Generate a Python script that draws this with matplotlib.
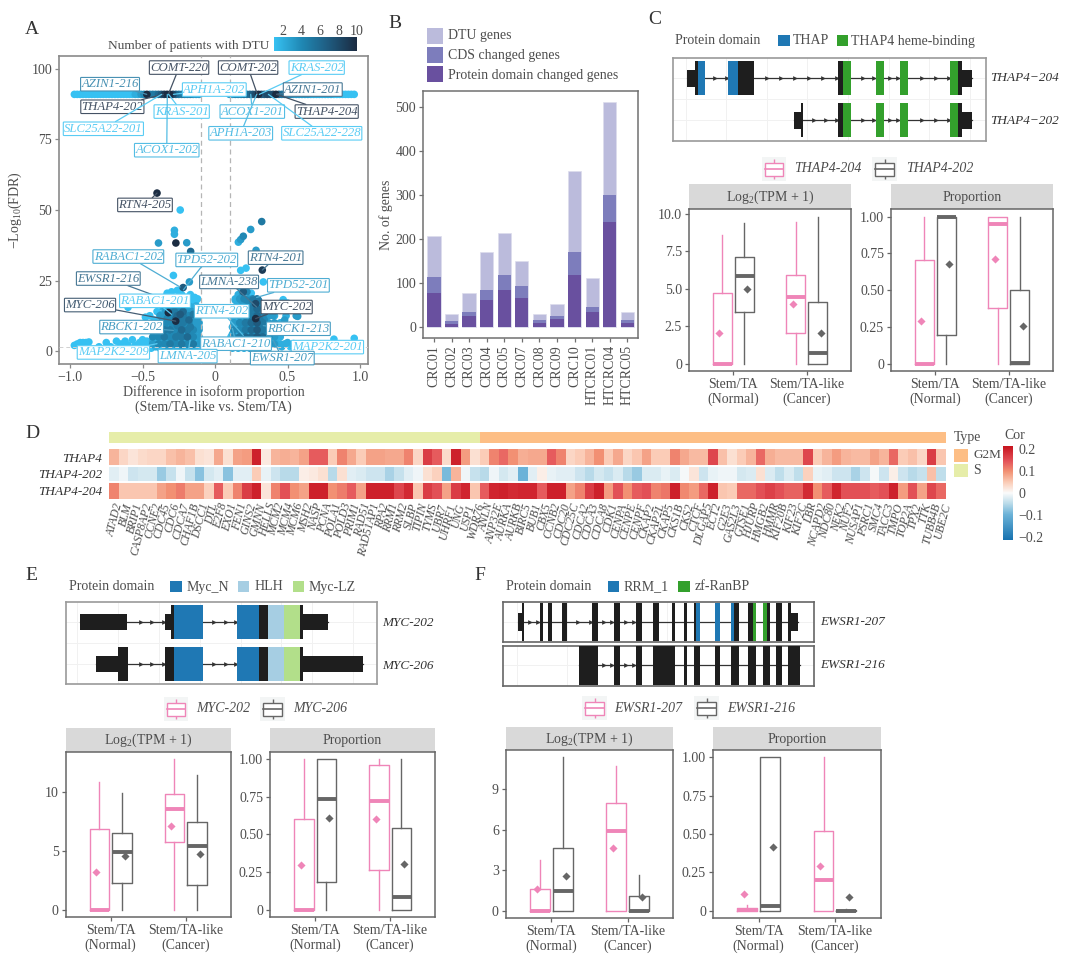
import matplotlib
matplotlib.use('Agg')
import matplotlib.pyplot as plt
import numpy as np
from matplotlib.colors import LinearSegmentedColormap, Normalize
from matplotlib.patches import Rectangle

plt.rcParams['font.family'] = ['Liberation Serif', 'DejaVu Serif']
plt.rcParams['mathtext.fontset'] = 'custom'
plt.rcParams['mathtext.rm'] = 'Liberation Serif'
plt.rcParams['mathtext.it'] = 'Liberation Serif:italic'
plt.rcParams['mathtext.default'] = 'regular'

W, H = 1080, 974
TXT = '#4d4d4d'
PINK = '#ef85b8'
GREY = '#666666'
BLUE = '#1f78b4'
GREEN = '#33a02c'
LBLUE = '#a6cee3'
LGREEN = '#b2df8a'

# ── A: volcano ────────────────────────────────────────────────────────
row_x = [-0.97, -0.95, -0.93, -0.91, -0.89, -0.87, -0.85, -0.83, -0.81, -0.79, -0.77, -0.75,
         -0.73, -0.71, -0.69, -0.67, -0.65, -0.63, -0.61, -0.59, -0.57, -0.55, -0.53, -0.51,
         -0.49, -0.47, -0.45, -0.43, -0.41, -0.39, -0.37, -0.35, -0.33, -0.31, -0.29, -0.27,
         -0.25, -0.23, -0.21, -0.19, -0.17, -0.15, -0.13, -0.11,
         0.10, 0.12, 0.14, 0.16, 0.18, 0.20, 0.22, 0.24, 0.26, 0.28, 0.30, 0.32, 0.34, 0.36,
         0.38, 0.40, 0.42, 0.44, 0.46, 0.48, 0.50, 0.52, 0.54, 0.56, 0.58, 0.60, 0.62, 0.64,
         0.66, 0.68, 0.70, 0.72, 0.74, 0.76, 0.78, 0.80, 0.82, 0.84, 0.86, 0.88, 0.90, 0.92,
         0.94, 0.96]
row_n = [1, 1, 1, 1, 1, 1, 1, 1, 1, 1, 1, 1,
         1, 1, 1, 1, 1, 1, 1, 1, 1, 2, 2, 3,
         4, 10, 4, 5, 5, 6, 7, 9, 10, 10, 8, 6,
         5, 5, 4, 4, 4, 3, 3, 3,
         3, 3, 4, 4, 4, 5, 5, 6, 7, 8, 10, 7, 7, 8,
         7, 8, 10, 6, 5, 5, 4, 4, 3, 3, 3, 3, 3, 3,
         2, 2, 2, 2, 2, 2, 2, 2, 1, 1, 1, 1, 1, 1,
         1, 1]
row_y = 91

dtu_x = [-0.40, -0.24, -0.28, -0.28, -0.27, -0.39, -0.195, -0.168, -0.287, -0.177,
         -0.22, 0.322, 0.246, 0.195, 0.161, 0.177, 0.283, 0.326, 0.214, 0.177,
         0.333, 0.28, 0.28, -0.322, -0.271, 0.195, -0.23,
         -0.97, -0.95, -0.93, -0.91, -0.89, -0.87, -0.80, -0.75, -0.72, -0.68,
         -0.65, -0.62, -0.60, -0.57, -0.55, -0.52, -0.50, -0.49, -0.47, -0.46,
         -0.60, -0.48, -0.45, -0.42, -0.40, -0.37, -0.35, -0.33, -0.30, -0.26,
         -0.23, -0.20, -0.17, -0.14, -0.12, -0.35, -0.31, -0.28, -0.24, -0.21,
         -0.18, -0.15, -0.13,
         -0.44, -0.41, -0.38, -0.35, -0.32, -0.29, -0.26, -0.23, -0.20, -0.17,
         -0.14, -0.11, -0.43, -0.40, -0.37, -0.34, -0.31, -0.28, -0.25, -0.22,
         -0.19, -0.16, -0.13, -0.10, -0.42, -0.39, -0.36, -0.33, -0.30, -0.27,
         -0.24, -0.21, -0.18, -0.15, -0.12, -0.41, -0.38, -0.35, -0.32, -0.29,
         -0.26, -0.23, -0.20, -0.17, -0.14, -0.11, -0.36, -0.33, -0.30, -0.27,
         -0.24, -0.21, -0.18, -0.15, -0.12, -0.34, -0.31, -0.28, -0.25, -0.22,
         -0.19, -0.16, -0.13, -0.30, -0.27, -0.24, -0.21, -0.18, -0.15, -0.12,
         0.96, 0.82, 0.76, 0.72, 0.68, 0.64, 0.60, 0.56, 0.52, 0.48,
         0.47, 0.50, 0.57, 0.56, 0.40, 0.44, 0.48, 0.52, 0.47, 0.42,
         0.38, 0.36, 0.34, 0.32, 0.30, 0.28, 0.26, 0.24, 0.22, 0.20,
         0.18, 0.16, 0.14, 0.12, 0.11, 0.38, 0.36, 0.34, 0.32, 0.30,
         0.28, 0.26, 0.24, 0.22, 0.20, 0.18, 0.16, 0.14, 0.12, 0.11,
         0.36, 0.33, 0.30, 0.27, 0.24, 0.21, 0.18, 0.15, 0.12, 0.34,
         0.31, 0.28, 0.25, 0.22, 0.19, 0.16, 0.13, 0.32, 0.29, 0.26,
         0.23, 0.20, 0.17, 0.14, 0.30, 0.27, 0.24, 0.21, 0.18, 0.15,
         0.29, 0.26, 0.23, 0.20, 0.17, 0.14, 0.25, 0.22, 0.19, 0.16,
         0.21, 0.18, 0.70, 0.66, 0.62, 0.58, 0.54, 0.50, 0.46, 0.42]
dtu_y = [56, 50, 42.8, 41.4, 38.3, 38.3, 38.4, 35.3, 26.8, 24.5,
         22.5, 45.9, 43.1, 40.7, 38.6, 39.5, 35.7, 28.7, 29.4, 28.6,
         24.5, 16.8, 11.5, 13.6, 10.6, 21, 5,
         2, 2.5, 3, 3, 3, 3.2, 1.5, 3, 1.5, 3.5,
         2.5, 3.5, 2, 4, 2, 3, 4, 1.5, 3.5, 2,
         15.5, 12, 12.5, 11, 14, 13, 19, 20.5, 21, 21.5,
         20, 19, 20, 19, 18.5, 16, 17, 18, 17, 18,
         16, 17, 16,
         1, 1.5, 1, 2, 1, 2, 1, 2, 1, 2,
         1, 2, 3.5, 4, 3.5, 4, 3.5, 4, 3.5, 4,
         3.5, 4, 3.5, 4, 6, 6.5, 6, 6.5, 6, 6.5,
         6, 6.5, 6, 6.5, 6, 8.5, 9, 8.5, 9, 8.5,
         9, 8.5, 9, 8.5, 9, 8.5, 11, 11.5, 11, 11.5,
         11, 11.5, 11, 11.5, 11, 14, 14.5, 14, 14.5, 14,
         14.5, 14, 14.5, 16.5, 12.5, 13, 13.5, 12.5, 13, 13.5,
         4.5, 4.2, 1.5, 2.5, 1.5, 2.5, 1.5, 2.5, 1.5, 2.5,
         18.2, 17, 12.3, 12.5, 12.5, 15, 11, 7.5, 8, 5,
         3, 1, 3, 1, 3, 1, 3, 1, 3, 1,
         3, 1, 3, 1, 2, 5.5, 6, 5.5, 6, 5.5,
         6, 5.5, 6, 5.5, 6, 5.5, 6, 5.5, 6, 5,
         8.5, 8.5, 8.5, 8.5, 8.5, 8.5, 8.5, 8.5, 8.5, 11,
         11, 11, 11, 11, 11, 11, 11, 13.5, 13.5, 13.5,
         13.5, 13.5, 13.5, 13.5, 16, 16, 16, 16, 16, 16,
         18.5, 18.5, 18.5, 18.5, 18.5, 18.5, 20.5, 21, 20.5, 20,
         23, 22.5, 1.5, 2.5, 1.5, 2.5, 1.5, 3, 1.5, 3]
dtu_n = [10, 1, 2, 2, 10, 3, 3, 6, 1, 3,
         7, 5, 3, 4, 2, 3, 3, 9, 1, 1,
         1, 8, 10, 10, 10, 7, 5,
         1, 1, 1, 1, 1, 1, 1, 1, 1, 1,
         1, 1, 1, 1, 1, 1, 1, 1, 1, 1,
         1, 1, 1, 1, 1, 2, 2, 1, 1, 1,
         1, 1, 1, 1, 1, 3, 3, 2, 2, 3,
         2, 1, 2,
         1, 2, 1, 2, 3, 2, 2, 3, 2, 3,
         2, 1, 2, 2, 3, 2, 3, 4, 3, 3,
         2, 3, 2, 1, 2, 3, 2, 4, 3, 4,
         5, 3, 4, 3, 2, 3, 3, 4, 3, 4,
         5, 4, 3, 5, 3, 2, 3, 4, 3, 6,
         5, 4, 6, 3, 3, 3, 4, 5, 4, 6,
         3, 3, 2, 2, 4, 7, 3, 3, 5, 3,
         1, 1, 1, 1, 1, 1, 1, 2, 1, 2,
         1, 1, 3, 3, 3, 3, 3, 4, 3, 2,
         2, 3, 4, 3, 5, 3, 4, 3, 3, 2,
         3, 2, 3, 2, 2, 3, 3, 4, 4, 5,
         4, 4, 3, 3, 2, 3, 2, 2, 2, 1,
         3, 4, 5, 4, 3, 4, 3, 2, 2, 4,
         5, 6, 5, 3, 3, 2, 2, 4, 5, 4,
         3, 4, 2, 2, 4, 5, 4, 3, 2, 2,
         5, 4, 3, 4, 3, 2, 1, 4, 3, 2,
         4, 2, 1, 1, 1, 1, 2, 2, 2, 2]

# denser core of the two blobs near the axis
core_x = [-.43, -.39, -.35, -.31, -.27, -.23, -.19, -.15, -.11,
          -.43, -.39, -.35, -.31, -.27, -.23, -.19, -.15, -.11,
          -.43, -.39, -.35, -.31, -.27, -.23, -.19, -.15, -.11,
          -.38, -.34, -.30, -.26, -.22, -.18, -.14, -.11,
          -.38, -.34, -.30, -.26, -.22, -.18, -.14, -.11,
          -.36, -.32, -.28, -.24, -.20, -.16, -.12,
          -.36, -.32, -.28, -.24, -.20, -.16, -.13,
          .13, .17, .21, .25, .29, .33, .37, .41, .45,
          .13, .17, .21, .25, .29, .33, .37, .41, .45,
          .13, .17, .21, .25, .29, .33, .37, .41, .45,
          .13, .17, .21, .25, .29, .33, .37, .41, .45,
          .13, .17, .21, .25, .29, .33, .37, .41, .49,
          .13, .17, .21, .25, .29, .33, .37, .41,
          .14, .18, .22, .26, .30]
core_y = [2.5, 2.5, 2.5, 2.5, 2.5, 2.5, 2.5, 2.5, 2.5,
          5, 5, 5, 5, 5, 5, 5, 5, 5,
          7.5, 7.5, 7.5, 7.5, 7.5, 7.5, 7.5, 7.5, 7.5,
          10, 10, 10, 10, 10, 10, 10, 10,
          12.5, 12.5, 12.5, 12.5, 12.5, 12.5, 12.5, 12.5,
          15.5, 15.5, 15.5, 15.5, 15.5, 15.5, 15.5,
          18, 18, 18, 18, 18, 18, 18,
          2.5, 2.5, 2.5, 2.5, 2.5, 2.5, 2.5, 2.5, 2.5,
          5, 5, 5, 5, 5, 5, 5, 5, 5,
          7.5, 7.5, 7.5, 7.5, 7.5, 7.5, 7.5, 7.5, 7.5,
          10, 10, 10, 10, 10, 10, 10, 10, 10,
          12.5, 12.5, 12.5, 12.5, 12.5, 12.5, 12.5, 12.5, 12.5,
          15, 15, 15, 15, 15, 15, 15, 15,
          18, 18, 18, 18, 18]
core_n = [3, 4, 4, 5, 4, 5, 4, 5, 3,
          4, 4, 5, 4, 5, 5, 6, 4, 3,
          3, 4, 5, 5, 4, 6, 5, 4, 3,
          3, 4, 4, 5, 5, 4, 3, 3,
          3, 3, 4, 6, 5, 4, 3, 3,
          2, 2, 3, 3, 3, 2, 2,
          1, 2, 2, 2, 1, 1, 1,
          4, 5, 5, 6, 6, 5, 4, 3, 2,
          4, 5, 6, 6, 7, 6, 4, 3, 2,
          4, 4, 5, 6, 7, 5, 4, 3, 3,
          3, 4, 5, 6, 7, 5, 3, 3, 2,
          3, 4, 5, 5, 6, 4, 3, 2, 2,
          2, 3, 4, 5, 6, 3, 2, 2,
          2, 3, 4, 5, 5]

lab_names = ['COMT-220', 'COMT-202', 'KRAS-202', 'AZIN1-216', 'AZIN1-201', 'APH1A-202',
             'THAP4-202', 'THAP4-204', 'KRAS-201', 'ACOX1-201', 'SLC25A22-201', 'APH1A-203',
             'SLC25A22-228', 'ACOX1-202', 'RTN4-205', 'RABAC1-202', 'TPD52-202', 'RTN4-201',
             'EWSR1-216', 'LMNA-238', 'TPD52-201', 'RABAC1-201', 'MYC-206', 'MYC-202',
             'RTN4-202', 'RBCK1-202', 'RBCK1-213', 'RABAC1-210', 'MAP2K2-201', 'MAP2K2-209',
             'LMNA-205', 'EWSR1-207']
lab_n = [10, 10, 1, 5, 7, 1, 10, 10, 1, 2, 1, 2, 1, 2, 10, 3, 3, 7, 7, 7, 3, 1, 9, 10,
         2, 4, 4, 3, 1, 1, 2, 4]
lab_x = [-.248, .228, .701, -.724, .674, -.005, -.708, .77, -.23, .257, -.77, .177,
         .736, -.333, -.483, -.598, -.057, .418, -.736, .097, .575, -.414, -.862, .494,
         .046, -.575, .575, .145, .775, -.701, -.189, .464]
lab_y = [100.5, 100.5, 100.5, 94.6, 92.7, 92.7, 86.6, 84.9, 84.9, 84.9, 78.8, 77.2,
         77.2, 71.2, 51.8, 33.5, 32.3, 33.1, 25.7, 24.5, 23.3, 17.8, 16.3, 15.6,
         14.1, 8.5, 7.9, 2.6, 1.4, -.5, -1.8, -2.5]
tip_x = [-.322, .292, .306, -.471, .425, -.287, -.356, .425, -.32, .246, -.368, .287,
         .368, -.329, -.40, -.241, -.218, .326, -.379, .287, .287, -.3, -.271, .28,
         .195, -.287, .333, .12, .54, -.40, -.172, .402]
tip_y = [91, 91, 91, 91, 91, 91, 91, 91, 91, 91, 91, 91,
         91, 91, 56, 22.7, 21.7, 28.7, 19, 15.6, 19, 13, 10.6, 11.5,
         5.5, 7.3, 9, 8, 3.8, 2.6, 3.8, 3.8]

# ── B: stacked bars ───────────────────────────────────────────────────
patients = ['CRC01', 'CRC02', 'CRC03', 'CRC04', 'CRC05', 'CRC07', 'CRC08', 'CRC09', 'CRC10',
            'HTCRC01', 'HTCRC04', 'HTCRC05']
dtu_genes = [207, 29, 78, 170, 213, 150, 30, 53, 355, 112, 511, 35]
cds_genes = [114, 13, 33, 83, 117, 94, 17, 26, 171, 46, 299, 15]
domain_genes = [78, 7, 25, 61, 83, 66, 10, 19, 119, 34, 239, 10]

# ── Box stats: whislo, q1, med, q3, whishi, mean ──────────────────────
c_tpm_a = [[0, 0, 0, 4.7, 8.6, 2.04], [0, 2.09, 4.47, 5.9, 9.47, 3.98]]
c_tpm_b = [[0, 3.44, 5.84, 7.13, 9.38, 5.02], [0, 0, 0.71, 4.16, 9.82, 2.07]]
c_prop_a = [[0, 0, 0, 0.706, 1, 0.294], [0, 0.378, 0.952, 0.995, 1, 0.713]]
c_prop_b = [[0, 0.195, 1, 1, 1, 0.68], [0, 0, 0.01, 0.502, 1, 0.256]]
e_tpm_a = [[0, 0, 0, 6.84, 10.85, 3.22], [0, 5.79, 8.53, 9.8, 12.74, 7.12]]
e_tpm_b = [[0, 2.29, 4.94, 6.55, 9.9, 4.55], [0, 2.09, 5.4, 7.46, 11.44, 4.77]]
e_prop_a = [[0, 0, 0, 0.6, 1, 0.30], [0, 0.268, 0.72, 0.96, 1, 0.602]]
e_prop_b = [[0, 0.188, 0.732, 1, 1, 0.608], [0, 0, 0.086, 0.54, 1, 0.305]]
f_tpm_a = [[0, 0, 0, 1.6, 3.78, 1.6], [0, 0, 5.91, 8.01, 10.68, 4.67]]
f_tpm_b = [[0, 0, 1.46, 4.67, 11.35, 2.57], [0, 0, 0, 1.11, 2.65, 0.99]]
f_prop_a = [[0, 0, 0.005, 0.02, 0.037, 0.11], [0, 0, 0.203, 0.52, 1, 0.29]]
f_prop_b = [[0, 0, 0.03, 1, 1, 0.414], [0, 0, 0, 0.005, 0.01, 0.09]]
group_labels = ['Stem/TA\n(Normal)', 'Stem/TA-like\n(Cancer)']

# ── D: heatmap ────────────────────────────────────────────────────────
s_genes = ['ATAD2', 'BLM', 'BRIP1', 'CASP8AP2', 'CCNE2', 'CDC45', 'CDC6', 'CDCA7', 'CHAF1B',
           'DSCC1', 'DTL', 'E2F8', 'EXO1', 'FEN1', 'GINS2', 'GMNN', 'HELLS', 'MCM2', 'MCM4',
           'MCM6', 'MSH2', 'NASP', 'PCNA', 'POLA1', 'POLD3', 'PRIM1', 'RAD51', 'RAD51AP1',
           'RPA2', 'RRM1', 'RRM2', 'SLBP', 'TIPIN', 'TYMS', 'UBR7', 'UHRF1', 'UNG', 'USP1',
           'WDR76']
g2m_genes = ['ANLN', 'ANP32E', 'AURKA', 'AURKB', 'BIRC5', 'BUB1', 'CBX5', 'CCNB2', 'CDC20',
             'CDC25C', 'CDCA2', 'CDCA3', 'CDCA8', 'CDK1', 'CENPA', 'CENPE', 'CENPF', 'CKAP2',
             'CKAP2L', 'CKAP5', 'CKS1B', 'CKS2', 'CTCF', 'DLGAP5', 'ECT2', 'G2E3', 'GAS2L3',
             'GTSE1', 'HJURP', 'HMGB2', 'HMMR', 'KIF20B', 'KIF23', 'KIF2C', 'LBR', 'NCAPD2',
             'NDC80', 'NEK2', 'NUF2', 'NUSAP1', 'PSRC1', 'SMC4', 'TACC3', 'TMPO', 'TOP2A',
             'TPX2', 'TTK', 'TUBB4B', 'UBE2C']
cor_thap4 = [.07, .04, .025, .035, .04, .04, .06, .07, .06, .03, .025, .08, .03, .085, .09, .2,
             .02, .07, .075, .07, .085, .14, .14, .05, .11, .08, .05, .085, .085, .08, .08,
             .11, .04, .17, .14, .035, .2, .09, .03,
             .05, .11, .13, .1, .075, .08, .08, .14, .11, .04, .05, .07, .1, .05, .08, .04,
             .055, .085, .05, .05, .11, .08, .065, .065, .16, .06, .03, .05, .07, .13, .075,
             .065, .065, .065, .16, .05, .07, .09, .07, .065, .065, .085, .07, .13, .05, .06,
             .04, .17, .055]
cor_202 = [-.02, -.01, -.035, -.03, -.03, -.07, -.04, -.01, -.04, -.08, -.03, -.02, -.08, -.02,
           -.02, .05, -.015, -.035, -.05, -.05, .015, .02, .03, -.05, .03, -.02, -.025, -.035,
           -.035, -.06, -.04, -.02, -.01, .03, .045, -.09, .07, -.01, -.04,
           -.05, -.01, -.03, -.02, -.1, -.02, .015, -.015, -.02, -.02, -.035, -.05, -.03, -.04,
           -.025, -.05, -.07, -.025, -.025, -.015, -.025, -.005, .025, -.035, -.015,
           -.01, -.01, -.03, -.025, .03, -.025, -.045, -.025, -.045, .045, -.015, -.02, -.035,
           -.035, -.06, -.035, -.005, -.035, .015, -.035, -.05, -.04, .06, -.045]
cor_204 = [.11, .055, .055, .055, .055, .085, .10, .115, .085, .085, .045, .14, .05, .11, .17,
           .2, .025, .11, .15, .10, .085, .2, .2, .10, .115, .14, .085, .2, .2, .2, .16, .19,
           .055, .17, .15, .085, .17, .195, .055,
           .14, .195, .2, .19, .195, .195, .14, .2, .2, .085, .11, .17, .2, .09, .15, .10, .14,
           .15, .11, .12, .2, .105, .09, .13, .2, .055, .05, .13, .13, .15, .165, .15, .135,
           .135, .19, .10, .14, .195, .15, .15, .15, .14, .15, .2, .09, .15, .085, .16, .13]
heat_rows = ['THAP4', 'THAP4-202', 'THAP4-204']

# ── Transcript models (positions along a shared track, start/end pairs) ──
c_grid = [137, 259, 380, 502, 625, 747, 868, 990]
c204_utr = [(141, 166), (965, 995)]
c204_cds = [(166, 175), (293, 341), (595, 609), (955, 965)]
c204_thap = [(175, 195), (263, 293)]
c204_heme = [(609, 633), (707, 731), (780, 804), (931, 955)]
c204_marks = [226, 260, 382, 424, 465, 507, 549, 590, 668, 702, 751, 775, 845, 887, 927]
c202_utr = [(463, 482), (965, 995)]
c202_cds = [(482, 488), (595, 609), (955, 965)]
c202_heme = [(609, 633), (707, 731), (780, 804), (931, 955)]
c202_marks = [521, 557, 590, 668, 702, 751, 775, 845, 887, 927]

e_grid = [112, 235, 358, 480, 603, 725, 818, 940]
e202_utr = [(121, 262), (375, 394), (791, 865)]
e202_cds = [(394, 402), (658, 686), (781, 791)]
e206_utr = [(167, 234), (791, 970)]
e206_cds = [(234, 263), (375, 402), (658, 686), (781, 791)]
e_myc_n = [(402, 488), (591, 658)]
e_hlh = [(686, 733)]
e_lz = [(733, 781)]
e_marks = [302, 336, 372, 524, 558, 590]

f_grid = [170, 320, 470, 620, 770, 920]
f207_utr = [(173, 185), (993, 1014)]
f207_cds = [(185, 192), (239, 248), (263, 275), (307, 322), (395, 414), (462, 480), (527, 546),
            (578, 596), (637, 646), (671, 680), (701, 708), (823, 838), (864, 880), (921, 930),
            (947, 966), (983, 993)]
f207_rrm = [(708, 721), (766, 781), (813, 823)]
f207_zf = [(880, 888), (908, 921)]
f207_marks = [210, 233, 355, 392, 433, 457, 498, 522]
f216_cds = [(357, 414), (462, 480), (527, 546), (578, 646), (671, 680), (701, 721), (766, 781),
            (813, 838), (864, 888), (908, 930), (947, 966), (983, 1020)]
f216_marks = [433, 457, 498, 522]

fig = plt.figure(figsize=(W / 100, H / 100), dpi=100, facecolor='white')


def px_axes(x0, y0, x1, y1, **kw):
    return fig.add_axes([x0 / W, 1 - y1 / H, (x1 - x0) / W, (y1 - y0) / H], **kw)


def style_spines(ax, color='#707070', lw=1.1):
    for s in ax.spines.values():
        s.set_color(color)
        s.set_linewidth(lw)
    ax.tick_params(colors=TXT, color=color, labelsize=10, length=3, width=0.9, pad=2)


# ── Panel A ───────────────────────────────────────────────────────────
dtu_cmap = LinearSegmentedColormap.from_list('dtu', ['#36c1f2', '#2088b4', '#1f5a7e', '#1b2c42'])
dtu_norm = Normalize(1, 10)

ax = px_axes(59, 56, 368, 364)
all_x = np.array(row_x + core_x + dtu_x)
all_y = np.array([row_y] * len(row_x) + core_y + dtu_y)
all_n = np.array(row_n + core_n + dtu_n)
order = np.argsort(all_n, kind='stable')
ax.scatter(all_x[order], all_y[order], c=all_n[order], cmap=dtu_cmap, norm=dtu_norm,
           s=30, linewidths=0, zorder=2)
ax.axvline(-0.1, color='#b5b5b5', ls=(0, (4, 3)), lw=0.9, zorder=3)
ax.axvline(0.1, color='#b5b5b5', ls=(0, (4, 3)), lw=0.9, zorder=3)
ax.axhline(1.3, color='#d0d0d0', ls=(0, (4, 3)), lw=0.7, zorder=3)
ax.set_xlim(-1.076, 1.055)
ax.set_ylim(-4.6, 104.6)
ax.set_xticks([-1, -0.5, 0, 0.5, 1])
ax.set_xticklabels(['−1.0', '−0.5', '0', '0.5', '1.0'])
ax.set_yticks([0, 25, 50, 75, 100])
style_spines(ax, '#8a8a8a', 1.2)
ax.set_xlabel('Difference in isoform proportion\n(Stem/TA-like vs. Stem/TA)', fontsize=10,
              color=TXT, labelpad=1, linespacing=1.15)
ax.set_ylabel('−Log$_{10}$(FDR)', fontsize=10, color=TXT, labelpad=5)
for name, n, lx, ly, tx, ty in zip(lab_names, lab_n, lab_x, lab_y, tip_x, tip_y):
    c = tuple(0.82 * v + 0.18 for v in dtu_cmap(dtu_norm(n))[:3])
    ax.annotate(name, xy=(tx, ty), xytext=(lx, ly), ha='center', va='center', fontsize=9.2,
                style='italic', color=c, zorder=5,
                bbox=dict(boxstyle='round,pad=0.06', fc='white', ec=c, lw=0.8),
                arrowprops=dict(arrowstyle='-', color=c, lw=0.9, shrinkA=0, shrinkB=0))

cax = px_axes(274, 37, 357, 51)
cax.imshow(np.linspace(1, 10, 200)[None, :], cmap=dtu_cmap, norm=dtu_norm, aspect='auto',
           extent=(1, 10, 0, 1))
cax.set_yticks([])
cax.set_xticks([2, 4, 6, 8, 10])
cax.xaxis.tick_top()
cax.tick_params(length=0, labelsize=10, colors=TXT, pad=-1)
for s in cax.spines.values():
    s.set_visible(False)

# ── Panel B ───────────────────────────────────────────────────────────
ax = px_axes(423, 91, 638, 338)
xb = np.arange(len(patients))
ax.bar(xb, dtu_genes, width=0.75, color='#bbbbdc', edgecolor='#dcdcec', lw=0.5, zorder=2)
ax.bar(xb, cds_genes, width=0.75, color='#7d7dbc', zorder=3)
ax.bar(xb, domain_genes, width=0.75, color='#69509f', zorder=4)
ax.set_xlim(-0.62, 11.6)
ax.set_ylim(-25, 536)
ax.set_yticks([0, 100, 200, 300, 400, 500])
ax.set_xticks(xb)
ax.set_xticklabels(patients, rotation=90)
style_spines(ax, '#707070', 1.1)
ax.set_ylabel('No. of genes', fontsize=10, color=TXT, labelpad=2)


# ── Box panels ────────────────────────────────────────────────────────
def box_series(ax, rows, color, off, mean_off):
    stats = [dict(whislo=r[0], q1=r[1], med=r[2], q3=r[3], whishi=r[4], fliers=[]) for r in rows]
    pos = [1 + off, 2 + off]
    ax.bxp(stats, positions=pos, widths=0.26, showfliers=False, showcaps=False,
           manage_ticks=False,
           boxprops=dict(color=color, lw=1.0),
           whiskerprops=dict(color=color, lw=1.0),
           medianprops=dict(color=color, lw=2.8, solid_capstyle='butt'))
    ax.scatter([p + mean_off for p in pos], [r[5] for r in rows], marker='D', s=17, color=color,
               linewidths=0, zorder=5)


def box_panel(x0, x1, y0, y1, strip_top, title, a_rows, b_rows, ylim, ticks, ticklabels):
    strip = px_axes(x0, strip_top, x1, y0, facecolor='#d9d9d9')
    strip.set_xticks([])
    strip.set_yticks([])
    for s in strip.spines.values():
        s.set_visible(False)
    strip.text(0.5, 0.47, title, transform=strip.transAxes, ha='center', va='center', fontsize=10,
               color=TXT)
    ax = px_axes(x0, y0, x1, y1)
    box_series(ax, a_rows, PINK, -0.15, -0.04)
    box_series(ax, b_rows, GREY, 0.15, 0.04)
    ax.set_xlim(0.4, 2.6)
    ax.set_ylim(*ylim)
    ax.set_xticks([1, 2])
    ax.set_xticklabels(group_labels, linespacing=1.15)
    ax.set_yticks(ticks)
    ax.set_yticklabels(ticklabels)
    style_spines(ax, '#666666', 1.1)
    return ax


prop_ticks = [0, 0.25, 0.5, 0.75, 1]
prop_labels = ['0', '0.25', '0.50', '0.75', '1.00']
log2_title = 'Log$_2$(TPM + 1)'

box_panel(689, 851, 209, 371, 184, log2_title, c_tpm_a, c_tpm_b, (-0.47, 10.33),
          [0, 2.5, 5, 7.5, 10], ['0', '2.5', '5.0', '7.5', '10.0'])
box_panel(891, 1053, 209, 371, 184, 'Proportion', c_prop_a, c_prop_b, (-0.0475, 1.052),
          prop_ticks, prop_labels)
box_panel(65.7, 230.7, 752, 917, 728, log2_title, e_tpm_a, e_tpm_b, (-0.59, 13.36),
          [0, 5, 10], ['0', '5', '10'])
box_panel(270, 435, 752, 917, 728, 'Proportion', e_prop_a, e_prop_b, (-0.0465, 1.046),
          prop_ticks, prop_labels)
box_panel(505.7, 673.3, 750, 917.7, 726.7, log2_title, f_tpm_a, f_tpm_b, (-0.52, 11.9),
          [0, 3, 6, 9], ['0', '3', '6', '9'])
box_panel(713, 880.7, 750, 917.7, 726.7, 'Proportion', f_prop_a, f_prop_b, (-0.046, 1.048),
          prop_ticks, prop_labels)


# ── Transcript tracks ─────────────────────────────────────────────────
def track(ax, y, tall, short, utr, cds, domains, marks):
    ends = [p for seg in utr + cds + [d for dom, _ in domains for d in dom] for p in seg]
    ax.plot([min(ends), max(ends)], [y, y], color='#333333', lw=0.9, zorder=1)
    ax.plot(marks, [y] * len(marks), ls='none', marker='>', ms=3.4, color='#333333', mew=0, zorder=2)
    for s, e in utr:
        ax.add_patch(Rectangle((s, y - short), e - s, 2 * short, fc='#1e1e1e', ec='none', zorder=3))
    for s, e in cds:
        ax.add_patch(Rectangle((s, y - tall), e - s, 2 * tall, fc='#1e1e1e', ec='none', zorder=3))
    for dom, col in domains:
        for s, e in dom:
            ax.add_patch(Rectangle((s, y - tall), e - s, 2 * tall, fc=col, ec='none', zorder=4))


def track_axes(x0, y0, x1, y1, xlim, ylim, grid, gridy, color='#9a9a9a'):
    ax = px_axes(x0, y0, x1, y1)
    ax.set_xlim(*xlim)
    ax.set_ylim(*ylim)
    ax.set_xticks(grid)
    ax.set_yticks(gridy)
    ax.grid(color='#f1f1f1', lw=0.7)
    ax.set_axisbelow(True)
    ax.tick_params(length=0, labelbottom=False, labelleft=False)
    for s in ax.spines.values():
        s.set_color(color)
        s.set_linewidth(1.2)
    return ax


ax = track_axes(672.7, 57.7, 985.7, 141, (98, 1037), (393, 143), c_grid, [205, 268, 331])
track(ax, 205, 51, 25, c204_utr, c204_cds, [(c204_thap, BLUE), (c204_heme, GREEN)], c204_marks)
track(ax, 331, 51, 25, c202_utr, c202_cds, [(c202_heme, GREEN)], c202_marks)

ax = track_axes(66.3, 602, 377, 684, (79, 1012), (358, 112), e_grid, [172, 235, 298])
myc_domains = [(e_myc_n, BLUE), (e_hlh, LBLUE), (e_lz, LGREEN)]
track(ax, 172, 50, 25, e202_utr, e202_cds, myc_domains, e_marks)
track(ax, 298, 50, 25, e206_utr, e206_cds, myc_domains, e_marks)

ax = track_axes(503.3, 601.7, 813.7, 642, (130, 1061), (232, 110), f_grid, [171], '#666666')
track(ax, 171, 58, 28, f207_utr, f207_cds, [(f207_rrm, BLUE), (f207_zf, GREEN)], f207_marks)
ax = track_axes(503.3, 645.7, 813.7, 685.7, (130, 1061), (362, 242), f_grid, [301], '#666666')
track(ax, 301, 58, 28, [], f216_cds, [], f216_marks)

# ── Panel D ───────────────────────────────────────────────────────────
cor_cmap = LinearSegmentedColormap.from_list(
    'cor', [(0, '#1873b0'), (0.27, '#6cb3d8'), (0.39, '#bcdcea'), (0.5, '#fbfbfb'),
            (0.61, '#fbcfba'), (0.73, '#f29274'), (0.84, '#e4545a'), (1, '#c8141f')])
cor_norm = Normalize(-0.215, 0.215)
all_genes = s_genes + g2m_genes

ax = px_axes(109, 432, 946, 443)
ax.broken_barh([(0, len(s_genes))], (0, 1), facecolors='#e6eda9')
ax.broken_barh([(len(s_genes), len(g2m_genes))], (0, 1), facecolors='#fdbe85')
ax.set_xlim(0, len(all_genes))
ax.set_ylim(0, 1)
ax.axis('off')

ax = px_axes(109, 449, 946, 499)
ax.pcolormesh(np.array([cor_thap4, cor_202, cor_204]), cmap=cor_cmap, norm=cor_norm)
ax.hlines([1, 2], 0, len(all_genes), color='white', lw=1.4)
ax.set_ylim(3, 0)
ax.set_xlim(0, len(all_genes))
ax.set_xticks(np.arange(len(all_genes)) + 0.5)
ax.set_xticklabels(all_genes, rotation=75, ha='right', va='top', rotation_mode='anchor',
                   style='italic', fontsize=8.5, color=TXT)
ax.set_yticks([0.5, 1.5, 2.5])
ax.set_yticklabels(heat_rows, style='italic', fontsize=9.5, color='#333333')
ax.tick_params(length=0, pad=5)
ax.tick_params(axis='x', pad=2)
for s in ax.spines.values():
    s.set_visible(False)

cax = px_axes(1003, 446, 1013, 540)
cax.imshow(np.linspace(0.215, -0.215, 200)[:, None], cmap=cor_cmap, norm=cor_norm, aspect='auto',
           extent=(0, 1, -0.215, 0.215))
cax.set_xticks([])
cax.yaxis.tick_right()
cax.set_yticks([-0.2, -0.1, 0, 0.1, 0.2])
cax.set_yticklabels(['−0.2', '−0.1', '0', '0.1', '0.2'])
cax.tick_params(length=0, labelsize=10, colors=TXT, pad=4)
for s in cax.spines.values():
    s.set_visible(False)

# ── Overlay in pixel coordinates: legends and panel letters ───────────
ov = fig.add_axes([0, 0, 1, 1], facecolor='none')
ov.set_xlim(0, W)
ov.set_ylim(H, 0)
ov.axis('off')


def key(x0, y0, x1, y1, color):
    ov.add_patch(Rectangle((x0, y0), x1 - x0, y1 - y0, fc=color, ec='none', zorder=1))


def label(x, y, s, **kw):
    kw.setdefault('fontsize', 10)
    kw.setdefault('color', TXT)
    ov.text(x, y, s, va='center', **kw)


def box_key(x0, x1, y, color):
    key(x0, y - 12, x1, y + 12, '#f3f5f5')
    c = (x0 + x1) / 2
    ov.plot([c, c], [y - 10, y + 10], color=color, lw=1, solid_capstyle='butt', zorder=2)
    ov.add_patch(Rectangle((x0 + 3, y - 6.5), x1 - x0 - 6, 13, fc='white', ec=color, lw=1, zorder=3))
    ov.plot([x0 + 3, x1 - 3], [y, y], color=color, lw=1.2, zorder=4)


for x, y, s in [(25, 29, 'A'), (388, 23, 'B'), (648, 20, 'C'), (25, 434, 'D'), (25, 575, 'E'),
                (474, 575, 'F')]:
    label(x, y, s, fontsize=14, color='#333333')

label(108, 46, 'Number of patients with DTU', fontsize=9.6)

key(427, 28, 443, 44, '#bbbbdc')
key(427, 47, 443, 63, '#7d7dbc')
key(427, 66, 443, 82, '#69509f')
label(448, 36, 'DTU genes')
label(448, 56, 'CDS changed genes')
label(448, 75, 'Protein domain changed genes')

label(675, 41, 'Protein domain')
key(778, 35, 790, 46, BLUE)
label(793, 41, 'THAP')
key(837, 35, 848, 46, GREEN)
label(851, 41, 'THAP4 heme-binding')
label(990, 78, 'THAP4−204', style='italic', color='#333333', fontsize=9.5)
label(990, 121, 'THAP4−202', style='italic', color='#333333', fontsize=9.5)
box_key(762, 786, 169, PINK)
box_key(872, 897, 169, GREY)
label(794, 169, 'THAP4-204', style='italic')
label(906, 169, 'THAP4-202', style='italic')

label(954, 438, 'Type')
key(953.5, 449, 967.5, 462, '#fdbe85')
key(953.5, 463.5, 967.5, 477, '#e6eda9')
label(973, 455.5, 'G2M', fontsize=9.5)
label(973, 470, 'S')
label(1004, 435.5, 'Cor')

label(69, 587, 'Protein domain')
key(170, 581, 182, 592, BLUE)
label(187, 587, 'Myc_N')
key(238, 581, 249, 592, LBLUE)
label(255, 587, 'HLH')
key(293, 581, 304, 592, LGREEN)
label(309, 587, 'Myc-LZ')
label(382, 623, 'MYC-202', style='italic', color='#333333', fontsize=9.5)
label(382, 666, 'MYC-206', style='italic', color='#333333', fontsize=9.5)
box_key(164, 188, 709, PINK)
box_key(260, 285, 709, GREY)
label(196, 709, 'MYC-202', style='italic')
label(293, 709, 'MYC-206', style='italic')

label(506, 587, 'Protein domain')
key(608, 581, 619, 592, BLUE)
label(624, 587, 'RRM_1')
key(678, 581, 690, 592, GREEN)
label(695, 587, 'zf-RanBP')
label(820, 622, 'EWSR1-207', style='italic', color='#333333', fontsize=9.5)
label(820, 665, 'EWSR1-216', style='italic', color='#333333', fontsize=9.5)
box_key(582, 607, 708, PINK)
box_key(694, 719, 708, GREY)
label(614, 708, 'EWSR1-207', style='italic')
label(727, 708, 'EWSR1-216', style='italic')

fig.savefig('out.png', dpi=100, facecolor='white')
